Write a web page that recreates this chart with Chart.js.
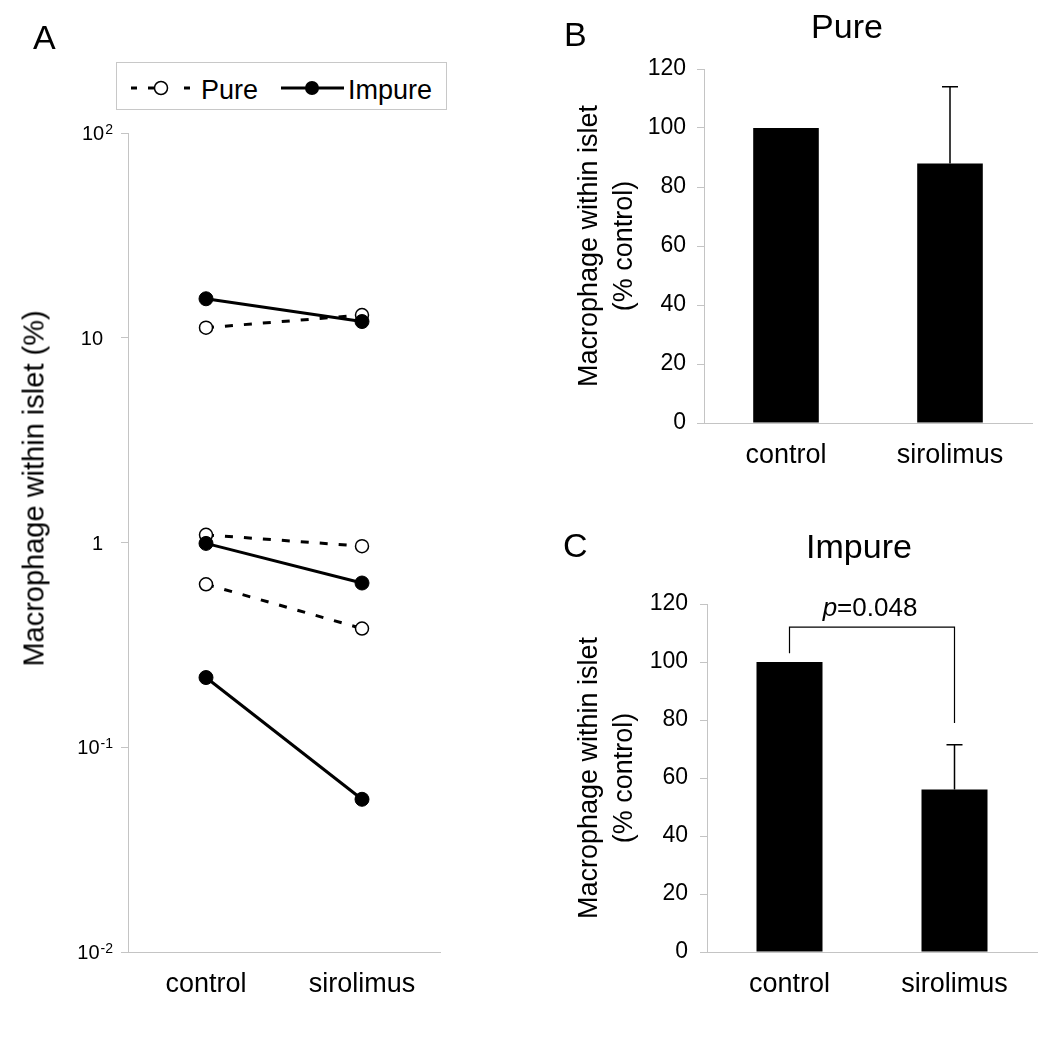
<!DOCTYPE html>
<html><head><meta charset="utf-8">
<script src="https://cdn.jsdelivr.net/npm/chart.js@4"></script>
<style>
html,body{margin:0;padding:0;background:#fff;}
body{width:1050px;height:1041px;position:relative;overflow:hidden;font-family:"Liberation Sans",Arial,sans-serif;color:#000;}
.abs{position:absolute;}
.lbl{font-size:34px;line-height:34px;white-space:nowrap;}
canvas{position:absolute;}
</style></head><body>
<canvas id="cA" width="460" height="1041" style="left:0;top:0"></canvas>
<canvas id="cB" width="530" height="480" style="left:520px;top:0"></canvas>
<canvas id="cC" width="530" height="521" style="left:520px;top:520px"></canvas>

<div class="abs lbl" style="left:33px;top:20px">A</div>
<div class="abs lbl" style="left:564px;top:17px">B</div>
<div class="abs lbl" style="left:563px;top:528px">C</div>
<div class="abs lbl" style="left:697px;top:9px;width:300px;text-align:center">Pure</div>
<div class="abs lbl" style="left:709px;top:529px;width:300px;text-align:center">Impure</div>
<div class="abs" style="left:-216px;top:473.5px;width:500px;height:29px;line-height:29px;font-size:29px;text-align:center;transform:rotate(-90deg);white-space:nowrap">Macrophage within islet (%)</div>

<svg class="abs" style="left:116px;top:62px" width="331" height="48">
  <rect x="0.5" y="0.5" width="330" height="47" fill="#fff" stroke="#c8c8c8"/>
  <g stroke="#000" stroke-width="3">
    <line x1="15" y1="26" x2="21" y2="26"/>
    <line x1="32" y1="26" x2="39" y2="26"/>
    <line x1="68" y1="26" x2="74" y2="26"/>
    <line x1="165" y1="26" x2="228" y2="26"/>
  </g>
  <circle cx="45" cy="26" r="6.5" fill="#fff" stroke="#000" stroke-width="1.5"/>
  <circle cx="196" cy="26" r="7" fill="#000"/>
  <text x="85" y="37" font-size="27" font-family="Liberation Sans, Arial, sans-serif">Pure</text>
  <text x="232" y="37" font-size="27" font-family="Liberation Sans, Arial, sans-serif">Impure</text>
</svg>

<script>
// ---------- data ----------
const categories = ['control', 'sirolimus'];
// Panel A: individual experiments (% macrophage within islet)
const pureExp1 = [11.2, 12.9];
const pureExp2 = [1.09, 0.96];
const pureExp3 = [0.625, 0.38];
const impureExp1 = [15.5, 12.0];
const impureExp2 = [0.99, 0.634];
const impureExp3 = [0.219, 0.0557];
const logTicks = [0.01, 0.1, 1, 10, 100];
const logTickBase = ['10', '10', '1', '10', '10'];
const logTickExp = ['-2', '-1', '', '', '2'];
// Panels B and C: mean (% control) and upper error
const pureMean = [100, 88];
const pureErr = [0, 26];
const impureMean = [100, 56];
const impureErr = [0, 15.5];
const barTickStep = 20;
const barMax = 120;
const pValue = '0.048';
const bracketLevels = [103, 112, 79]; // left end, top, right end (data units)

// ---------- styles ----------
const fam = '"Liberation Sans", Arial, sans-serif';
const axisGray = '#c4c4c4';

function pureDs(d) {
  return {label: 'Pure', data: d, borderColor: '#000', borderWidth: 3, borderDash: [8, 11],
    pointRadius: 6.5, pointBorderWidth: 1.5, pointBackgroundColor: '#fff', pointBorderColor: '#000',
    fill: false, tension: 0, order: 2};
}
function impureDs(d) {
  return {label: 'Impure', data: d, borderColor: '#000', borderWidth: 3,
    pointRadius: 7, pointBorderWidth: 1, pointBackgroundColor: '#000', pointBorderColor: '#000',
    fill: false, tension: 0, order: 1};
}

const logLabelPlugin = {
  id: 'logLabels',
  afterDraw(chart) {
    const ctx = chart.ctx, ys = chart.scales.y, x0 = chart.chartArea.left;
    ctx.save();
    ctx.fillStyle = '#000';
    ctx.textBaseline = 'alphabetic';
    ctx.textAlign = 'right';
    logTicks.forEach((v, i) => {
      const py = ys.getPixelForValue(v);
      const base = logTickBase[i], exp = logTickExp[i];
      if (exp) {
        ctx.font = '14px ' + fam;
        const ew = ctx.measureText(exp).width;
        ctx.fillText(exp, x0 - 15, py + 1);
        ctx.font = '20px ' + fam;
        ctx.fillText(base, x0 - 16 - ew, py + 7);
      } else {
        ctx.font = '20px ' + fam;
        ctx.fillText(base, x0 - 25, py + 7);
      }
    });
    ctx.restore();
  }
};

new Chart(document.getElementById('cA'), {
  type: 'line',
  data: {
    labels: categories,
    datasets: [pureDs(pureExp1), pureDs(pureExp2), pureDs(pureExp3),
               impureDs(impureExp1), impureDs(impureExp2), impureDs(impureExp3)]
  },
  options: {
    responsive: false, animation: false, events: [],
    layout: {padding: {top: 133, right: 20, left: 0, bottom: 0}},
    plugins: {legend: {display: false}, tooltip: {enabled: false}},
    scales: {
      x: {
        offset: true,
        grid: {display: false, drawTicks: false},
        border: {color: axisGray, width: 1},
        ticks: {color: '#000', font: {family: fam, size: 27}, padding: 16},
        afterFit(s) { s.height = 89; }
      },
      y: {
        type: 'logarithmic', min: 0.01, max: 100,
        afterBuildTicks(s) { s.ticks = logTicks.map(v => ({value: v})); },
        grid: {drawOnChartArea: false, drawTicks: true, tickLength: 7, color: axisGray},
        border: {color: axisGray, width: 1},
        ticks: {display: false},
        afterFit(s) { s.width = 128; }
      }
    }
  },
  plugins: [logLabelPlugin]
});

const errorBarPlugin = {
  id: 'errBars',
  afterDatasetsDraw(chart) {
    const ctx = chart.ctx, meta = chart.getDatasetMeta(0), ds = chart.data.datasets[0], ys = chart.scales.y;
    ctx.save();
    ctx.strokeStyle = '#000';
    ctx.lineWidth = 1.5;
    meta.data.forEach((bar, i) => {
      const e = ds.errors[i];
      if (!e) return;
      const top = ys.getPixelForValue(ds.data[i] + e);
      const base = ys.getPixelForValue(ds.data[i]);
      ctx.beginPath();
      ctx.moveTo(bar.x, base); ctx.lineTo(bar.x, top);
      ctx.moveTo(bar.x - 8, top); ctx.lineTo(bar.x + 8, top);
      ctx.stroke();
    });
    ctx.restore();
  }
};

const bracketPlugin = {
  id: 'bracket',
  afterDatasetsDraw(chart) {
    const ctx = chart.ctx, meta = chart.getDatasetMeta(0), ys = chart.scales.y;
    const x1 = meta.data[0].x, x2 = meta.data[1].x;
    const yl = ys.getPixelForValue(bracketLevels[0]);
    const yt = ys.getPixelForValue(bracketLevels[1]);
    const yr = ys.getPixelForValue(bracketLevels[2]);
    ctx.save();
    ctx.strokeStyle = '#000';
    ctx.lineWidth = 1.2;
    ctx.beginPath();
    ctx.moveTo(x1, yl); ctx.lineTo(x1, yt); ctx.lineTo(x2, yt); ctx.lineTo(x2, yr);
    ctx.stroke();
    ctx.fillStyle = '#000';
    ctx.textBaseline = 'alphabetic';
    ctx.textAlign = 'left';
    ctx.font = 'italic 26px ' + fam;
    const pw = ctx.measureText('p').width;
    ctx.font = '26px ' + fam;
    const rest = '=' + pValue;
    const rw = ctx.measureText(rest).width;
    const sx = (x1 + x2) / 2 - (pw + rw) / 2 - 2;
    const by = yt - 11;
    ctx.font = 'italic 26px ' + fam;
    ctx.fillText('p', sx, by);
    ctx.font = '26px ' + fam;
    ctx.fillText(rest, sx + pw, by);
    ctx.restore();
  }
};

function barChart(id, means, errs, extra, padTop, padRight, yWidth, xHeight, tickPad) {
  return new Chart(document.getElementById(id), {
    type: 'bar',
    data: {
      labels: categories,
      datasets: [{data: means, errors: errs, backgroundColor: '#000', borderWidth: 0,
        categoryPercentage: 1, barPercentage: 0.4}]
    },
    options: {
      responsive: false, animation: false, events: [],
      layout: {padding: {top: padTop, right: padRight, left: 0, bottom: 0}},
      plugins: {legend: {display: false}, tooltip: {enabled: false}},
      scales: {
        x: {
          grid: {display: false, drawTicks: false},
          border: {color: axisGray, width: 1},
          ticks: {color: '#000', font: {family: fam, size: 27}, padding: 16},
          afterFit(s) { s.height = xHeight; }
        },
        y: {
          min: 0, max: barMax,
          ticks: {stepSize: barTickStep, color: '#000', font: {family: fam, size: 23}, padding: tickPad},
          grid: {drawOnChartArea: false, drawTicks: true, tickLength: 7, color: axisGray},
          border: {color: axisGray, width: 1},
          title: {display: true, text: ['Macrophage within islet', '(% control)'], color: '#000',
            font: {family: fam, size: 27, lineHeight: 1.3}, padding: {top: 52, bottom: 0}},
          afterFit(s) { s.width = yWidth; }
        }
      }
    },
    plugins: [errorBarPlugin].concat(extra)
  });
}

barChart('cB', pureMean, pureErr, [], 69, 18, 184, 57, 11);
barChart('cC', impureMean, impureErr, [bracketPlugin], 84, 13, 187, 89, 12);
</script>
</body></html>
